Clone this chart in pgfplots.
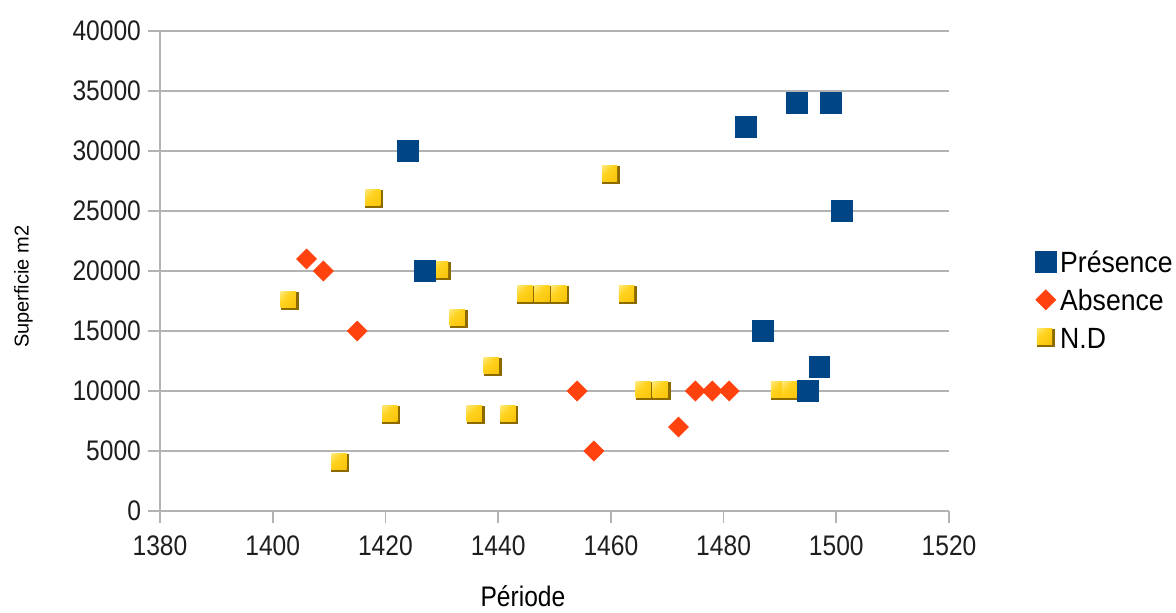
\documentclass[border=0pt]{standalone}
\usepackage{pgfplots}
\pgfplotsset{compat=1.18}
\usepackage{fontspec}
\setmainfont{Liberation Sans}

\definecolor{presblue}{HTML}{004586}
\definecolor{absred}{HTML}{FF420E}
\definecolor{ndyellow}{HTML}{FFD320}
\definecolor{ndlight}{HTML}{FFF4A8}
\definecolor{nddeep}{HTML}{F5BE00}
\definecolor{ndrim}{HTML}{8C6A00}
\definecolor{gridgray}{HTML}{B3B3B3}
\definecolor{textgray}{HTML}{1E1E1E}

% Bevelled yellow box used for the N.D series
\pgfdeclarehorizontalshading{ndface}{100bp}{color(0bp)=(ndlight); color(40bp)=(ndyellow); color(100bp)=(nddeep)}
\pgfdeclareplotmark{ndbox}{%
  \pgfpathrectangle{\pgfqpoint{-\pgfplotmarksize}{-\pgfplotmarksize}}{\pgfqpoint{2\pgfplotmarksize}{2\pgfplotmarksize}}%
  \pgfsetfillcolor{ndrim}%
  \pgfusepath{fill}%
  \pgfpathrectangle{\pgfqpoint{-\pgfplotmarksize}{-0.7\pgfplotmarksize}}{\pgfqpoint{1.7\pgfplotmarksize}{1.7\pgfplotmarksize}}%
  \pgfshadepath{ndface}{-45}%
  \pgfusepath{discard}%
}

% single legend marker per entry
\pgfplotsset{onemark/.style={legend image code/.code={\draw[##1] plot coordinates {(0pt,0pt)};}}}

\pgfplotstableread{
x y
1424 30000
1427 20000
1484 32000
1487 15000
1493 34000
1495 10000
1497 12000
1499 34000
1501 25000
}\presence

\pgfplotstableread{
x y
1406 21000
1409 20000
1415 15000
1454 10000
1457 5000
1472 7000
1475 10000
1478 10000
1481 10000
}\absence

\pgfplotstableread{
x y
1403 17500
1412 4000
1418 26000
1421 8000
1430 20000
1433 16000
1436 8000
1439 12000
1442 8000
1445 18000
1448 18000
1451 18000
1460 28000
1463 18000
1466 10000
1469 10000
1490 10000
1492 10000
}\nondet

\begin{document}
\begin{tikzpicture}[font=\color{textgray}]
\useasboundingbox (-80pt,-51pt) rectangle (508pt,255.5pt);
\begin{axis}[
  at={(0pt,0pt)}, anchor=south west,
  scale only axis, width=394.5pt, height=240pt,
  xmin=1380, xmax=1520, ymin=0, ymax=40000,
  xtick distance=20, ytick distance=5000,
  scaled x ticks=false, scaled y ticks=false,
  /pgf/number format/1000 sep={},
  /pgf/number format/assume math mode=true,
  axis x line=bottom, axis y line=left,
  axis line style={gridgray, line width=0.8pt, -},
  ymajorgrids, grid style={gridgray, line width=1pt},
  tick align=outside, major tick length=6pt,
  tick style={gridgray, line width=0.8pt},
  ticklabel style={font=\fontsize{12.3}{14}\selectfont, yscale=1.15, text=textgray},
  xticklabel style={yshift=-2pt},
  clip=false,
  reverse legend,
  legend cell align=left,
  legend style={at={(1.109,0.44)}, anchor=west, draw=none, fill=none,
    inner sep=0pt, row sep=8pt,
    font=\fontsize{13.3}{15}\selectfont,
    nodes={inner xsep=2pt, inner ysep=0pt, text height=10pt, text depth=0pt, yscale=1.1}},
]
\addplot[only marks, mark=ndbox, mark size=4.5pt, onemark]
  table[x=x, y=y] {\nondet};
\addlegendentry{N.D}
\addplot[only marks, mark=square*, mark size=3.5pt,
  mark options={rotate=45, draw=absred, fill=absred}, onemark]
  table[x=x, y=y] {\absence};
\addlegendentry{Absence}
\addplot[only marks, mark=square*, mark size=5.2pt,
  mark options={draw=presblue, fill=presblue}, onemark]
  table[x=x, y=y] {\presence};
\addlegendentry{Présence}

\node[font=\fontsize{12.3}{14}\selectfont, yscale=1.15] at (rel axis cs:0.460,-0.177) {Période};
\node[font=\fontsize{10}{12}\selectfont, rotate=90] at (rel axis cs:-0.173,0.467) {Superficie m2};
\end{axis}
\end{tikzpicture}
\end{document}
